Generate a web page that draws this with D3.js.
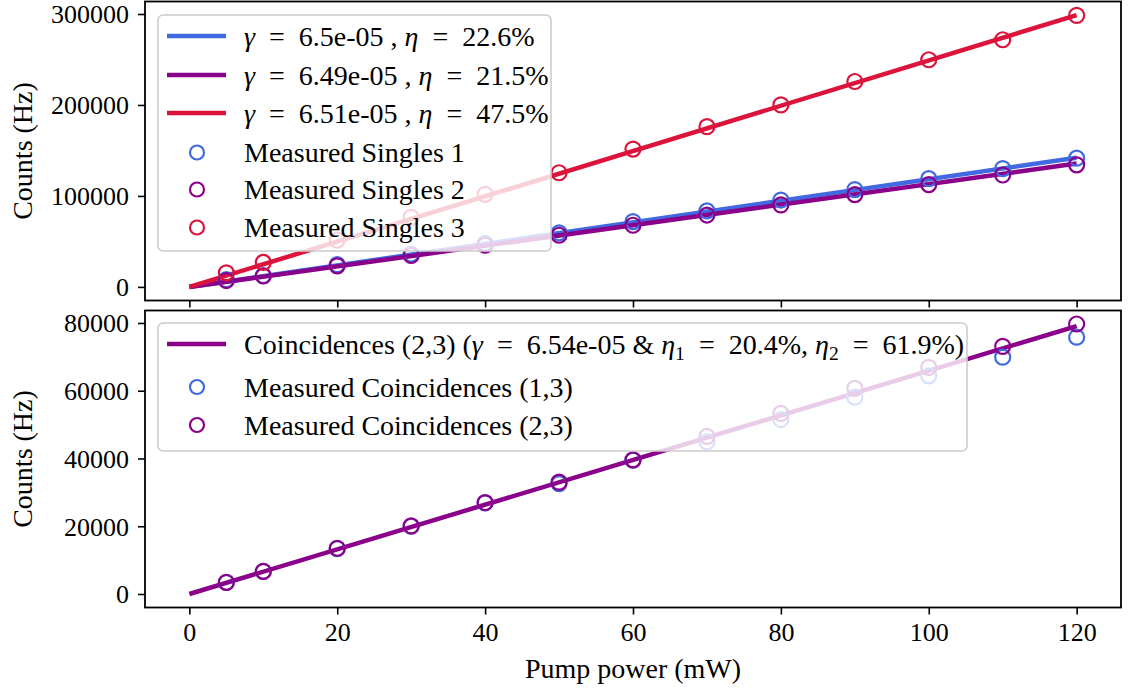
<!DOCTYPE html>
<html><head><meta charset="utf-8">
<script src="https://cdn.jsdelivr.net/npm/d3@7"></script>
<style>
html,body{margin:0;padding:0;background:#fff;}
svg text{font-family:"Liberation Serif","Times New Roman",serif;fill:#000;}
</style></head>
<body><svg id="chart" width="1128" height="690"></svg>
<script>
// ---- data ----
const power = [5, 10, 20, 30, 40, 50, 60, 70, 80, 90, 100, 110, 120];
const singles1 = [8000, 12500, 24500, 36200, 47800, 59500, 71800, 83500, 95500, 107000, 119000, 130000, 141500];
const singles2 = [7000, 12000, 23200, 34500, 45800, 56800, 67800, 79000, 90200, 101500, 112500, 123000, 134200];
const singles3 = [15500, 26900, 51500, 76500, 101800, 125500, 151500, 176200, 200100, 225800, 249700, 271700, 298500];
const coinc13 = [3400, 6650, 13400, 20000, 26900, 32600, 39500, 44900, 51500, 58100, 64400, 69900, 75800];
const coinc23 = [3450, 6700, 13500, 20100, 27000, 33000, 39600, 46500, 53300, 60700, 66900, 73100, 79700];
const fitX = [0, 120];
const fit1 = [0, 142000];
const fit2 = [0, 135600];
const fit3 = [0, 298800];
const fitC = [0, 79100];
const xTicks = [0, 20, 40, 60, 80, 100, 120];
const yTicksTop = [0, 100000, 200000, 300000];
const yTicksBot = [0, 20000, 40000, 60000, 80000];
const colors = {blue: "#4169e1", purple: "#8b008b", red: "#dc143c"};

const svg = d3.select("#chart");
const L = 145, R = 1121;
const FS = 28, TFS = 26;
const EQ = "\u2002=\u2002";

const x = d3.scaleLinear().domain([-6, 126]).range([L, R]);
function marginDomain(vals){
  const [a, b] = d3.extent(vals); const m = (b - a) * 0.05; return [a - m, b + m];
}
const yTop = d3.scaleLinear()
  .domain(marginDomain([...singles1, ...singles2, ...singles3, ...fit1, ...fit2, ...fit3]))
  .range([300.5, 1.5]);
const yBot = d3.scaleLinear()
  .domain(marginDomain([...coinc13, ...coinc23, ...fitC]))
  .range([607.5, 310.5]);

function drawAxes(y, ticks, top, bottom, showXLabels){
  const g = svg.append("g");
  const ya = g.append("g").attr("transform", `translate(${L},0)`)
    .call(d3.axisLeft(y).tickValues(ticks).tickFormat(d3.format("d")).tickSize(7).tickPadding(9));
  ya.select(".domain").remove();
  ya.selectAll("line").attr("stroke", "#000").attr("stroke-width", 1.6);
  ya.selectAll("text").attr("font-size", TFS).attr("font-family", "Liberation Serif").attr("dy", "0.34em");
  const xa = g.append("g").attr("transform", `translate(0,${bottom})`)
    .call(d3.axisBottom(x).tickValues(xTicks).tickSize(7).tickPadding(8).tickFormat(showXLabels ? d3.format("d") : ""));
  xa.select(".domain").remove();
  xa.selectAll("line").attr("stroke", "#000").attr("stroke-width", 1.6);
  xa.selectAll("text").attr("font-size", TFS).attr("font-family", "Liberation Serif");
  return g;
}
function drawFrame(top, bottom){
  svg.append("rect").attr("x", L).attr("y", top).attr("width", R - L).attr("height", bottom - top)
    .attr("fill", "none").attr("stroke", "#000").attr("stroke-width", 1.8);
}
function clip(id, top, bottom){
  svg.append("clipPath").attr("id", id).append("rect")
    .attr("x", L).attr("y", top).attr("width", R - L).attr("height", bottom - top);
}
clip("cTop", 1.5, 300.5);
clip("cBot", 310.5, 607.5);

const line = (y) => d3.line().x((d) => x(d[0])).y((d) => y(d[1]));

// Top panel
drawAxes(yTop, yTicksTop, 1.5, 300.5, false);
const gT = svg.append("g").attr("clip-path", "url(#cTop)");
[[fit1, colors.blue], [fit2, colors.purple], [fit3, colors.red]].forEach(([f, c]) => {
  gT.append("path").datum(d3.zip(fitX, f)).attr("d", line(yTop))
    .attr("fill", "none").attr("stroke", c).attr("stroke-width", 4.5);
});
[[singles1, colors.blue], [singles2, colors.purple], [singles3, colors.red]].forEach(([s, c]) => {
  gT.selectAll(null).data(d3.zip(power, s)).enter().append("circle")
    .attr("cx", (d) => x(d[0])).attr("cy", (d) => yTop(d[1])).attr("r", 7.5)
    .attr("fill", "none").attr("stroke", c).attr("stroke-width", 2.2);
});
drawFrame(1.5, 300.5);

// Bottom panel
drawAxes(yBot, yTicksBot, 310.5, 607.5, true);
const gB = svg.append("g").attr("clip-path", "url(#cBot)");
gB.append("path").datum(d3.zip(fitX, fitC)).attr("d", line(yBot))
  .attr("fill", "none").attr("stroke", colors.purple).attr("stroke-width", 4.5);
[[coinc13, colors.blue], [coinc23, colors.purple]].forEach(([s, c]) => {
  gB.selectAll(null).data(d3.zip(power, s)).enter().append("circle")
    .attr("cx", (d) => x(d[0])).attr("cy", (d) => yBot(d[1])).attr("r", 7.5)
    .attr("fill", "none").attr("stroke", c).attr("stroke-width", 2.2);
});
drawFrame(310.5, 607.5);

// ---- legends ----
function mathLabel(t, parts){
  parts.forEach((p) => {
    const ts = t.append("tspan").text(p.t);
    if (p.i) ts.attr("font-style", "italic");
    if (p.sub) ts.attr("font-size", FS * 0.7).attr("dy", 6);
    if (p.up) ts.attr("dy", -6);
  });
}
function legend(box, items){
  const g = svg.append("g");
  g.append("rect").attr("x", box.x).attr("y", box.y).attr("width", box.w).attr("height", box.h)
    .attr("rx", 5).attr("fill", "#fff").attr("fill-opacity", 0.8).attr("stroke", "#cccccc").attr("stroke-width", 1.6);
  items.forEach((it) => {
    if (it.type === "line") {
      g.append("line").attr("x1", 167).attr("x2", 226).attr("y1", it.y).attr("y2", it.y)
        .attr("stroke", it.color).attr("stroke-width", 4.5);
    } else {
      g.append("circle").attr("cx", 197).attr("cy", it.y).attr("r", 7)
        .attr("fill", "none").attr("stroke", it.color).attr("stroke-width", 2.2);
    }
    const t = g.append("text").attr("x", 244).attr("y", it.y).attr("dy", "0.34em").attr("font-size", FS);
    mathLabel(t, it.parts);
  });
}
legend({x: 158, y: 15, w: 393, h: 236}, [
  {type: "line", y: 36, color: colors.blue, parts: [{t: "γ", i: 1}, {t: EQ + "6.5e-05 , "}, {t: "η", i: 1}, {t: EQ + "22.6%"}]},
  {type: "line", y: 75, color: colors.purple, parts: [{t: "γ", i: 1}, {t: EQ + "6.49e-05 , "}, {t: "η", i: 1}, {t: EQ + "21.5%"}]},
  {type: "line", y: 113, color: colors.red, parts: [{t: "γ", i: 1}, {t: EQ + "6.51e-05 , "}, {t: "η", i: 1}, {t: EQ + "47.5%"}]},
  {type: "pt", y: 152.5, color: colors.blue, parts: [{t: "Measured Singles 1"}]},
  {type: "pt", y: 189.5, color: colors.purple, parts: [{t: "Measured Singles 2"}]},
  {type: "pt", y: 227.5, color: colors.red, parts: [{t: "Measured Singles 3"}]}
]);
legend({x: 158, y: 323, w: 809, h: 128}, [
  {type: "line", y: 344, color: colors.purple, parts: [
    {t: "Coincidences (2,3) ("}, {t: "γ", i: 1}, {t: EQ + "6.54e-05 & "}, {t: "η", i: 1}, {t: "1", sub: 1},
    {t: EQ + "20.4%, ", up: 1}, {t: "η", i: 1}, {t: "2", sub: 1}, {t: EQ + "61.9%)", up: 1}]},
  {type: "pt", y: 387, color: colors.blue, parts: [{t: "Measured Coincidences (1,3)"}]},
  {type: "pt", y: 425, color: colors.purple, parts: [{t: "Measured Coincidences (2,3)"}]}
]);

// ---- axis titles ----
svg.append("text").attr("transform", "translate(22,151) rotate(-90)").attr("text-anchor", "middle")
  .attr("dy", "0.34em").attr("font-size", FS).text("Counts (Hz)");
svg.append("text").attr("transform", "translate(22,459) rotate(-90)").attr("text-anchor", "middle")
  .attr("dy", "0.34em").attr("font-size", FS).text("Counts (Hz)");
svg.append("text").attr("x", x(60)).attr("y", 668).attr("text-anchor", "middle")
  .attr("dy", "0.34em").attr("font-size", FS).text("Pump power (mW)");
</script></body></html>
